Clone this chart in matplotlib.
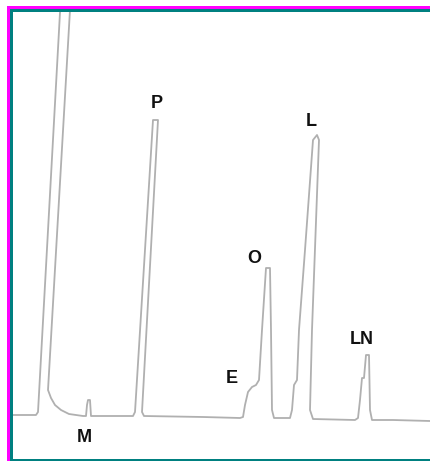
import matplotlib
matplotlib.use("Agg")
import matplotlib.pyplot as plt
import matplotlib.patches as patches

W, H = 430, 461

# chromatogram trace (retention axis, detector signal)
trace_t = [0, 23, 25, 50, 60, 35, 38, 42, 48, 56, 70, 73, 74, 75, 77, 78, 110,
           120, 122, 140, 145, 129, 131, 190, 227, 230, 232, 235, 239, 243, 246,
           249, 253, 257, 258, 259, 261, 277, 279, 281, 284, 286, 292, 300, 304,
           306, 299, 297, 300, 342, 345, 347, 349, 351, 353, 356, 357, 359, 380, 417]
trace_s = [3, 3, 6, 460, 460, 28, 20, 13, 8, 4, 2, 2, 13, 18, 18, 2, 2,
           2, 6, 298, 298, 6, 2, 1, 0, 1, 13, 26, 31, 33, 38, 88, 150, 150,
           88, 8, 0, 0, 8, 33, 38, 88, 168, 278, 283, 278, 88, 8, -1, -2, 0,
           18, 40, 40, 63, 63, 8, -2, -2, -3]

peak_names = ["M", "P", "E", "O", "L", "LN"]
label_t = [71, 144, 219, 241, 298, 349]
label_s = [-19, 315, 40, 160, 297, 79]

fig = plt.figure(figsize=(W / 100, H / 100), dpi=100)
ax = fig.add_axes([13 / W, 2 / H, (W - 13) / W, (459 - 12) / H])
ax.plot(trace_t, trace_s, color="#b0b0b0", lw=1.3)
for name, t, s in zip(peak_names, label_t, label_s):
    ax.text(t, s, name, ha="center", va="center", fontsize=13,
            fontfamily="Liberation Sans", fontweight="bold", color="#111111")
ax.set_xlim(0, W - 13)
ax.set_ylim(-41, 406)
ax.axis("off")

# scan frame: magenta and teal borders
def frame(x, y, w, h, c):
    fig.add_artist(patches.Rectangle((x / W, 1 - (y + h) / H), w / W, h / H,
                                     transform=fig.transFigure, color=c, lw=0))

frame(7, 6, W - 7, 3, "#ff00ff")
frame(7, 6, 3, H - 6, "#ff00ff")
frame(10, 9, W - 10, 3, "#008080")
frame(10, 9, 3, H - 9, "#008080")
frame(10, 459, W - 10, 2, "#008080")

fig.savefig("out.png", dpi=100)
